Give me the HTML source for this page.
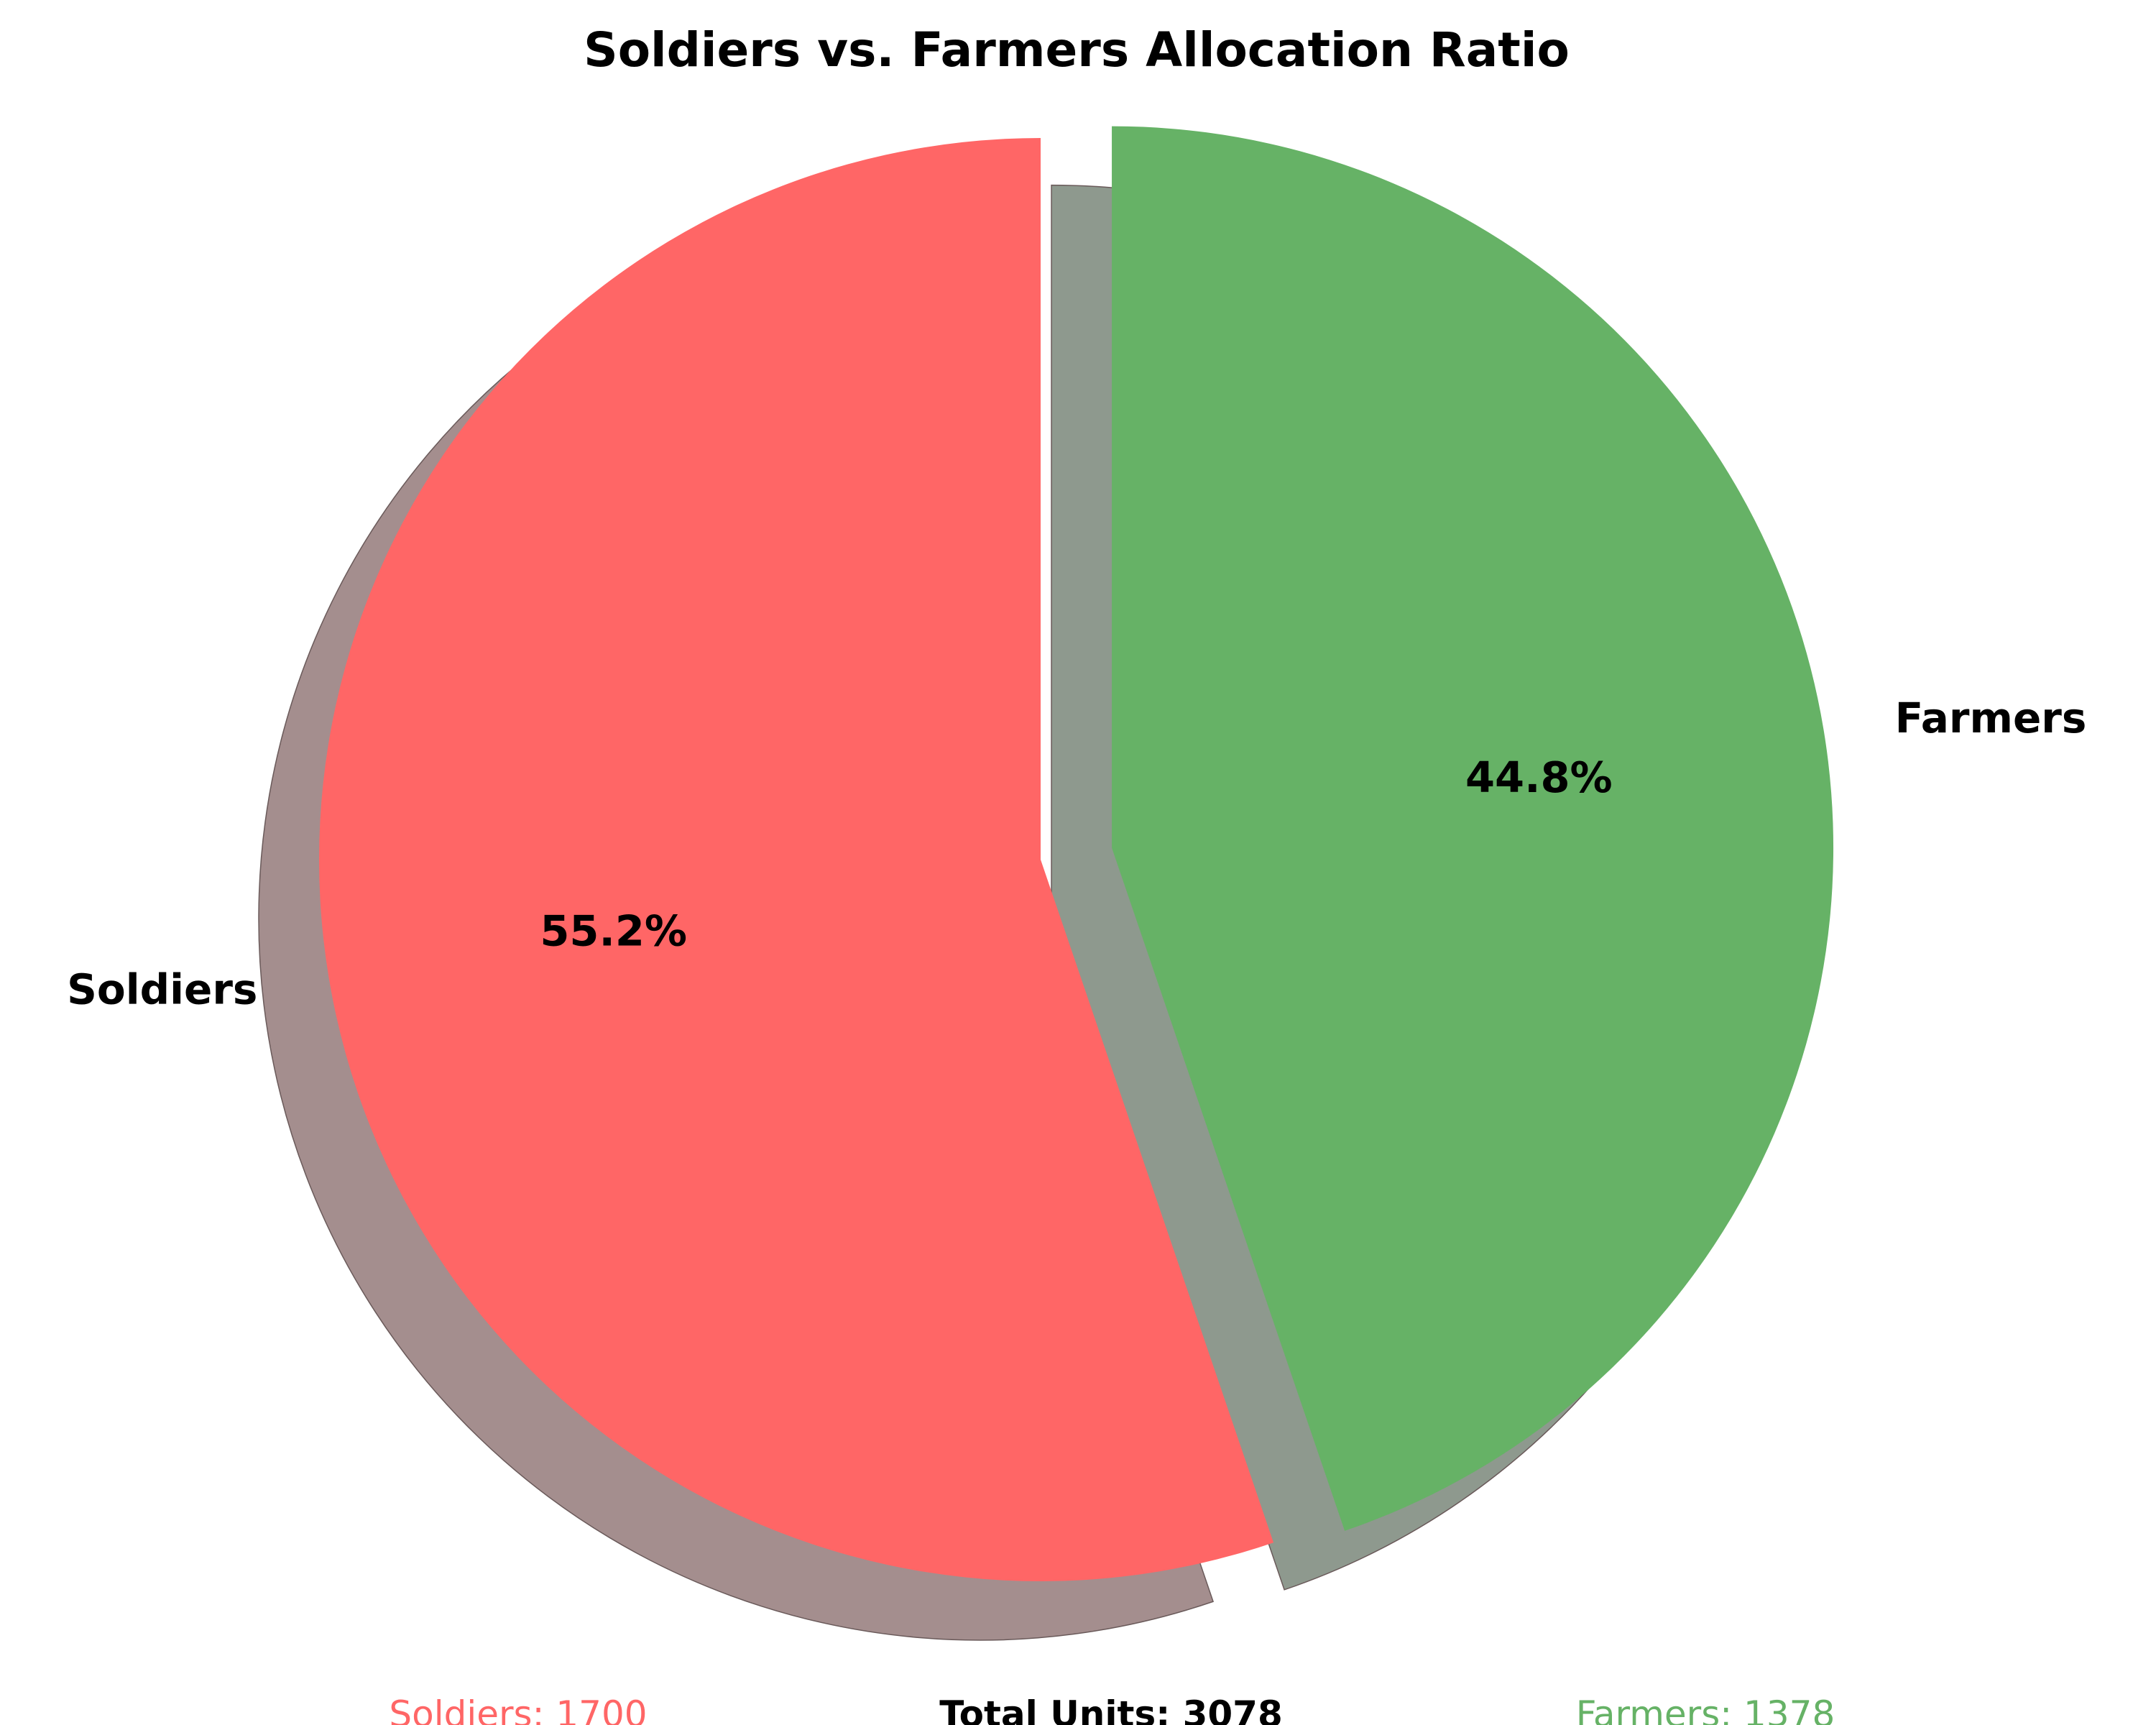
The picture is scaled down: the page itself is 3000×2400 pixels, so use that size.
<!DOCTYPE html>
<html><head><meta charset="utf-8"><style>
html,body{margin:0;padding:0;background:#fff;}
svg{display:block;font-family:"DejaVu Sans","Liberation Sans",sans-serif;}
</style></head><body>
<svg id="chart" width="3000" height="2400" viewBox="0 0 3000 2400" xmlns="http://www.w3.org/2000/svg">
<rect width="3000" height="2400" fill="#fff"/>
<text x="1498" y="92" text-anchor="middle" font-size="66" font-weight="bold">Soldiers vs. Farmers Allocation Ratio</text>
<g id="shadows"></g>
<g id="wedges"></g>
<g id="labels"></g>
<text x="721" y="2402" text-anchor="middle" font-size="50" fill="#FF6666">Soldiers: 1700</text>
<text x="1546" y="2402" text-anchor="middle" font-size="50" font-weight="bold">Total Units: 3078</text>
<text x="2373" y="2402" text-anchor="middle" font-size="50" fill="#66B266">Farmers: 1378</text>
</svg>
<script>
const categories = ["Soldiers", "Farmers"];
const values = [1700, 1378];
const explodeFlags = [0, 0.1];
const colors = ["#FF6666", "#66B266"];
const shadowColors = ["#a48e8e", "#8e998e"];

const NS = "http://www.w3.org/2000/svg";
const cx = 1448, cy = 1196, R = 1004;
const shX = -84, shY = 82;
const total = values.reduce((a, b) => a + b, 0);
const shadowsG = document.getElementById("shadows");
const wedgesG = document.getElementById("wedges");
const labelsG = document.getElementById("labels");

function pt(x0, y0, r, a) {
  const rad = a * Math.PI / 180;
  return [x0 + r * Math.cos(rad), y0 - r * Math.sin(rad)];
}
function wedgePath(x0, y0, a1, a2) {
  const p1 = pt(x0, y0, R, a1), p2 = pt(x0, y0, R, a2);
  const large = (a2 - a1) > 180 ? 1 : 0;
  return `M${x0},${y0} L${p1[0]},${p1[1]} A${R},${R} 0 ${large} 0 ${p2[0]},${p2[1]} Z`;
}

let start = 90;
const geoms = [];
values.forEach((v, i) => {
  const sweep = v / total * 360;
  const end = start + sweep;
  const mid = (start + end) / 2;
  const off = explodeFlags[i] * R;
  const c = pt(cx, cy, off, mid);
  geoms.push({start, end, mid, c});
  start = end;
});

geoms.forEach((g, i) => {
  const s = document.createElementNS(NS, "path");
  s.setAttribute("d", wedgePath(g.c[0] + shX, g.c[1] + shY, g.start, g.end));
  s.setAttribute("fill", shadowColors[i]);
  s.setAttribute("stroke", "#6a5a5a");
  s.setAttribute("stroke-width", "1.5");
  
  
  shadowsG.appendChild(s);
});

geoms.forEach((g, i) => {
  const w = document.createElementNS(NS, "path");
  w.setAttribute("d", wedgePath(g.c[0], g.c[1], g.start, g.end));
  w.setAttribute("fill", colors[i]);
  
  
  wedgesG.appendChild(w);

  const lp = pt(g.c[0], g.c[1], R * 1.1, g.mid);
  const lab = document.createElementNS(NS, "text");
  lab.setAttribute("x", lp[0]);
  lab.setAttribute("y", lp[1] + 20);
  lab.setAttribute("text-anchor", Math.cos(g.mid * Math.PI / 180) < 0 ? "end" : "start");
  lab.setAttribute("font-size", "58");
  lab.setAttribute("font-weight", "bold");
  lab.textContent = categories[i];
  
  
  labelsG.appendChild(lab);

  const pp = pt(g.c[0], g.c[1], R * 0.6, g.mid);
  const pct = document.createElementNS(NS, "text");
  pct.setAttribute("x", pp[0]);
  pct.setAttribute("y", pp[1] + 21);
  pct.setAttribute("text-anchor", "middle");
  pct.setAttribute("font-size", "59");
  pct.setAttribute("font-weight", "bold");
  pct.textContent = (values[i] / total * 100).toFixed(1) + "%";
  
  
  labelsG.appendChild(pct);
});
</script>
</body></html>
